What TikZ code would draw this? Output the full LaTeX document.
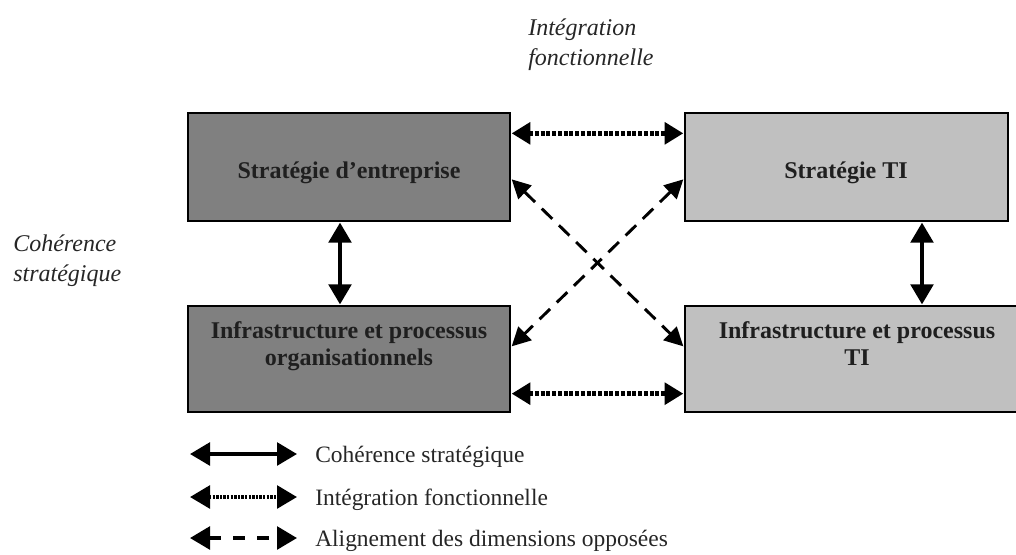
\documentclass[tikz,border=0pt]{standalone}
\usepackage{fontspec}
\setmainfont{Liberation Serif}
\usetikzlibrary{arrows.meta,calc}
\definecolor{darkfill}{HTML}{808080}
\definecolor{lightfill}{HTML}{C0C0C0}
\begin{document}
\begin{tikzpicture}[x=0.75pt,y=-0.75pt,
  darkbox/.style={draw=black,line width=1pt,fill=darkfill,minimum width=241.5pt,minimum height=81pt,inner sep=0pt},
  lightbox/.style={draw=black,line width=1pt,fill=lightfill,minimum width=242.25pt,minimum height=81pt,inner sep=0pt},
  boxtext/.style={font=\bfseries\fontsize{18}{20.25}\selectfont,text=black!88,align=center,inner sep=0pt},
  sidetext/.style={font=\itshape\fontsize{18}{22.5}\selectfont,text=black!85,align=left,inner sep=0pt,anchor=north west},
  legtext/.style={font=\fontsize{17.6}{20}\selectfont,text=black!85,inner sep=0pt,anchor=base west},
  solidarrow/.style={{Triangle[length=15pt,width=17pt]}-{Triangle[length=15pt,width=17pt]},line width=2.6pt},
  dotarrow/.style={{Triangle[length=14pt,width=16pt]}-{Triangle[length=14pt,width=16pt]},line width=3.5pt,dash pattern=on 3pt off 1.3pt},
  dasharrow/.style={{Triangle[length=14pt,width=14pt]}-{Triangle[length=14pt,width=14pt]},line width=2.2pt,dash pattern=on 11pt off 7pt},
  legsolid/.style={{Triangle[length=15pt,width=17pt]}-{Triangle[length=15pt,width=17pt]},line width=2.8pt},
  legdot/.style={{Triangle[length=15pt,width=17pt]}-{Triangle[length=15pt,width=17pt]},line width=2.8pt,dash pattern=on 1.8pt off 0.9pt},
  legdash/.style={{Triangle[length=15pt,width=17pt]}-{Triangle[length=15pt,width=17pt]},line width=2.8pt,dash pattern=on 9pt off 9pt},
]
\useasboundingbox (0,0) rectangle (1016,554);
% boxes
\node[darkbox] (b1) at (349,167) {};
\node[lightbox] (b2) at (846.5,167) {};
\node[darkbox,minimum height=79.5pt] (b3) at (349,359) {};
\node[lightbox,minimum width=249pt,minimum height=79.5pt] (b4) at (851,359) {};
\node[boxtext,anchor=base] (t1) at (349,178) {Stratégie d’entreprise};
\node[boxtext,anchor=base] (t2) at (846,178) {Stratégie TI};
\node[boxtext,anchor=north] (t3) at (349,321.5) {Infrastructure et processus\\organisationnels};
\node[boxtext,anchor=north] (t4) at (857,321.5) {Infrastructure et processus\\TI};
% side labels
\node[sidetext] (l1) at (528,18.5) {Intégration\\fonctionnelle};
\node[sidetext] (l2) at (13,234.5) {Cohérence\\stratégique};
% connectors
\draw[dotarrow] ($(b1.north east)+(1,21)$) -- ($(b2.north west)+(-1,21)$);
\draw[dotarrow] ($(b3.south east)+(1,-19)$) -- ($(b4.south west)+(-1,-19)$);
\draw[dasharrow] ($(b1.north east)+(1,67)$) -- ($(b4.north west)+(-1,41)$);
\draw[dasharrow] ($(b2.north west)+(-1,67)$) -- ($(b3.north east)+(1,41)$);
\draw[solidarrow] ($(b1.south)+(-9,1)$) -- ($(b3.north)+(-9,-1)$);
\draw[solidarrow] ($(b2.south)+(75.5,1)$) -- ($(b4.north)+(71,-1)$);
% legend
\coordinate (a1) at (190,454); \coordinate (a2) at (297,454);
\coordinate (c1) at (190,497); \coordinate (c2) at (297,497);
\coordinate (d1) at (190,538); \coordinate (d2) at (297,538);
\draw[legsolid] (a1) -- (a2);
\draw[legdot] (c1) -- (c2);
\draw[legdash] (d1) -- (d2);
\node[legtext] (g1) at (315,462) {Cohérence stratégique};
\node[legtext] (g2) at (315,505) {Intégration fonctionnelle};
\node[legtext] (g3) at (315,546) {Alignement des dimensions opposées};
\end{tikzpicture}
\end{document}
